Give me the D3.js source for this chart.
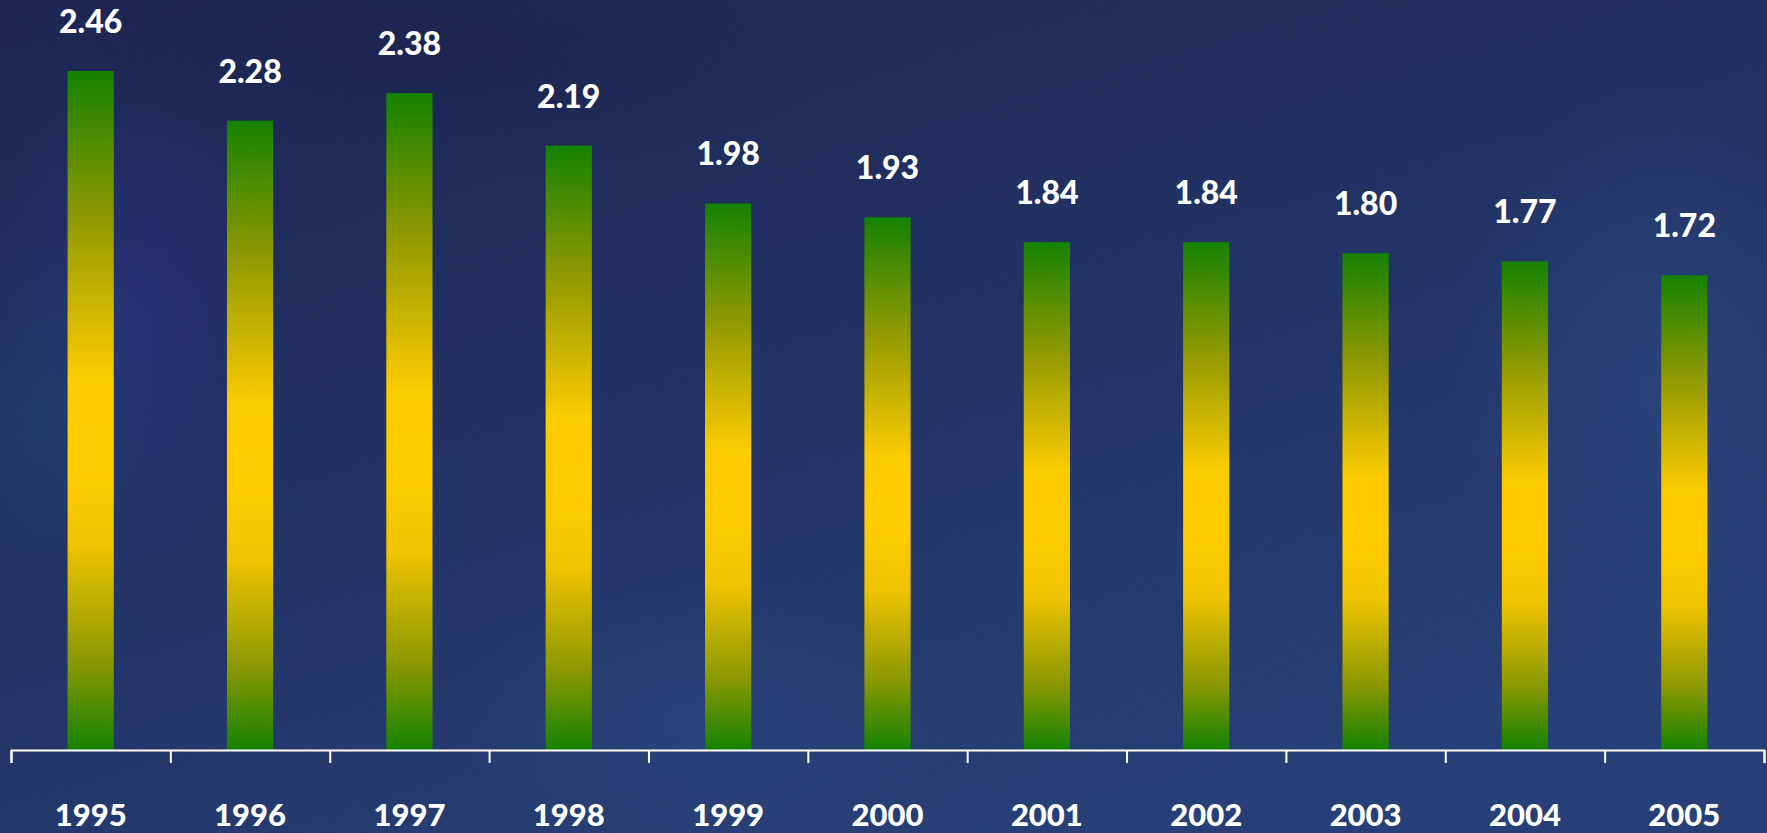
<!DOCTYPE html>
<html>
<head>
<meta charset="utf-8">
<script src="https://cdn.jsdelivr.net/npm/d3@7"></script>
<style>
  html, body { margin: 0; padding: 0; background: #1f2d5e; overflow: hidden; }
  svg { display: block; }
</style>
</head>
<body>
<svg id="chart" width="1767" height="833"></svg>
<script>
const years = ["1995","1996","1997","1998","1999","2000","2001","2002","2003","2004","2005"];
const values = [2.46, 2.28, 2.38, 2.19, 1.98, 1.93, 1.84, 1.84, 1.80, 1.77, 1.72];
const valueLabels = ["2.46","2.28","2.38","2.19","1.98","1.93","1.84","1.84","1.80","1.77","1.72"];

const W = 1767, H = 833;
const svg = d3.select("#chart");
const defs = svg.append("defs");

// background
const bg = defs.append("linearGradient").attr("id", "bg").attr("x1", 0).attr("y1", 0).attr("x2", 0.6).attr("y2", 1);
bg.append("stop").attr("offset", 0).attr("stop-color", "#19224e");
bg.append("stop").attr("offset", 0.5).attr("stop-color", "#1e2e60");
bg.append("stop").attr("offset", 1).attr("stop-color", "#243c74");

const blot = (id, c, o) => {
  const g = defs.append("radialGradient").attr("id", id);
  g.append("stop").attr("offset", 0).attr("stop-color", c).attr("stop-opacity", o);
  g.append("stop").attr("offset", 1).attr("stop-color", c).attr("stop-opacity", 0);
};
blot("b1", "#2a3490", 0.45);
blot("b2", "#1d4a6a", 0.4);
blot("b3", "#2f4f8a", 0.4);
blot("b4", "#151d45", 0.5);

const noise = defs.append("filter").attr("id", "noise").attr("x", 0).attr("y", 0).attr("width", 1).attr("height", 1);
noise.append("feTurbulence").attr("type", "fractalNoise").attr("baseFrequency", "0.9 0.35").attr("numOctaves", 2).attr("seed", 3);
noise.append("feColorMatrix").attr("type", "matrix")
  .attr("values", "0 0 0 0 0.25  0 0 0 0 0.35  0 0 0 0 0.6  0 0 0 0.07 0");

svg.append("rect").attr("width", W).attr("height", H).attr("fill", "url(#bg)");
svg.append("ellipse").attr("cx", 130).attr("cy", 320).attr("rx", 160).attr("ry", 260).attr("fill", "url(#b1)");
svg.append("ellipse").attr("cx", 40).attr("cy", 420).attr("rx", 120).attr("ry", 200).attr("fill", "url(#b2)");
svg.append("ellipse").attr("cx", 700).attr("cy", 720).attr("rx", 250).attr("ry", 140).attr("fill", "url(#b3)");
svg.append("ellipse").attr("cx", 1650).attr("cy", 380).attr("rx", 200).attr("ry", 300).attr("fill", "url(#b3)");
svg.append("ellipse").attr("cx", 450).attr("cy", 60).attr("rx", 400).attr("ry", 120).attr("fill", "url(#b4)");
svg.append("rect").attr("width", W).attr("height", H).attr("filter", "url(#noise)");

// bar gradient
const bar = defs.append("linearGradient").attr("id", "barGrad").attr("x1", 0).attr("y1", 0).attr("x2", 0).attr("y2", 1);
bar.append("stop").attr("offset", 0).attr("stop-color", "#148200");
bar.append("stop").attr("offset", 0.22).attr("stop-color", "#929a00");
bar.append("stop").attr("offset", 0.45).attr("stop-color", "#fccb00");
bar.append("stop").attr("offset", 0.58).attr("stop-color", "#ffcc00");
bar.append("stop").attr("offset", 0.7).attr("stop-color", "#eec300");
bar.append("stop").attr("offset", 0.87).attr("stop-color", "#8a9800");
bar.append("stop").attr("offset", 1).attr("stop-color", "#148200");

const x = d3.scaleBand().domain(years).range([11, 1764]).paddingInner(0.71).paddingOuter(0.355);
const y = d3.scaleLinear().domain([0, 2.46]).range([750, 71]);

svg.append("g").selectAll("rect").data(years).join("rect")
  .attr("x", d => x(d))
  .attr("width", x.bandwidth())
  .attr("y", (d, i) => y(values[i]))
  .attr("height", (d, i) => y(0) - y(values[i]))
  .attr("fill", "url(#barGrad)");

svg.append("g").selectAll("text").data(years).join("text")
  .attr("x", d => x(d) + x.bandwidth() / 2)
  .attr("y", (d, i) => y(values[i]) - 38)
  .attr("text-anchor", "middle")
  .attr("fill", "#ffffff")
  .attr("font-family", "Lato, 'Open Sans', sans-serif")
  .attr("font-weight", 900)
  .attr("font-size", 32)
  .text((d, i) => valueLabels[i]);

// axis: ticks at band boundaries
const xAxisScale = d3.scaleLinear().domain([0, years.length]).range([11, 1764]);
const axis = d3.axisBottom(xAxisScale).tickValues(d3.range(years.length + 1))
  .tickSize(13).tickSizeOuter(13).tickFormat("");
const ag = svg.append("g").attr("transform", "translate(0,750)").call(axis);
ag.selectAll("path, line").attr("stroke", "#ffffff").attr("stroke-width", 2);

svg.append("g").selectAll("text").data(years).join("text")
  .attr("x", d => x(d) + x.bandwidth() / 2)
  .attr("y", 826)
  .attr("text-anchor", "middle")
  .attr("fill", "#ffffff")
  .attr("font-family", "Lato, 'Open Sans', sans-serif")
  .attr("font-weight", 900)
  .attr("font-size", 31)
  .text(d => d);
</script>
</body>
</html>
